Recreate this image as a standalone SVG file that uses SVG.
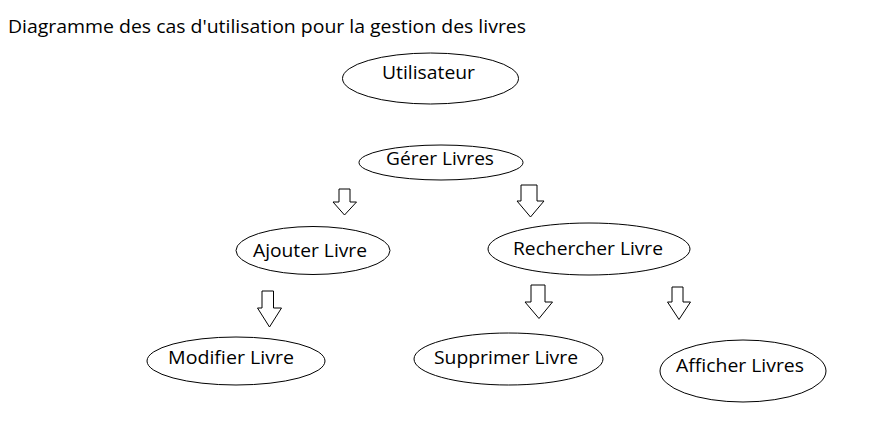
<svg xmlns="http://www.w3.org/2000/svg" width="886" height="431" viewBox="0 0 886 431">
<style>
.n ellipse{fill:#fff;stroke:#000;stroke-width:1}
text{font-family:"Open Sans","Liberation Sans",sans-serif;font-size:18.5px;fill:#000}
.c polygon{fill:#fff;stroke:#000;stroke-width:1}
</style>
<rect width="886" height="431" fill="#fff"/>
<text x="8" y="33" textLength="518" lengthAdjust="spacingAndGlyphs">Diagramme des cas d'utilisation pour la gestion des livres</text>
<g id="utilisateur" class="n"><ellipse cx="430.5" cy="78.5" rx="88" ry="25.5"/><text x="382" y="79" textLength="93" lengthAdjust="spacingAndGlyphs">Utilisateur</text></g>
<g id="gerer" class="n"><ellipse cx="441" cy="162.5" rx="82" ry="17.5"/><text x="386" y="165" textLength="108" lengthAdjust="spacingAndGlyphs">Gérer Livres</text></g>
<g id="ajouter" class="n"><ellipse cx="313" cy="250.5" rx="77" ry="24"/><text x="253" y="257" textLength="114" lengthAdjust="spacingAndGlyphs">Ajouter Livre</text></g>
<g id="rechercher" class="n"><ellipse cx="589" cy="249" rx="101" ry="26"/><text x="513" y="255" textLength="150" lengthAdjust="spacingAndGlyphs">Rechercher Livre</text></g>
<g id="modifier" class="n"><ellipse cx="236" cy="361" rx="89" ry="24"/><text x="168" y="364" textLength="126" lengthAdjust="spacingAndGlyphs">Modifier Livre</text></g>
<g id="supprimer" class="n"><ellipse cx="508.5" cy="359" rx="94.5" ry="26"/><text x="434" y="364" textLength="144" lengthAdjust="spacingAndGlyphs">Supprimer Livre</text></g>
<g id="afficher" class="n"><ellipse cx="743" cy="371" rx="83" ry="31"/><text x="676" y="372" textLength="128" lengthAdjust="spacingAndGlyphs">Afficher Livres</text></g>
<g id="connectors" class="c">
<polygon points="339,189 350,189 350,202 356.5,202 344.5,215 333,202 339,202"/>
<polygon points="521,185 537,185 537,201 544,201 530.5,217 517,201 521,201"/>
<polygon points="262,291 273.5,291 273.5,308 281.5,308 269.5,327 257.5,308 262,308"/>
<polygon points="531,285 545,285 545,302 552.5,302 539,318.5 525,302 531,302"/>
<polygon points="672,287 683,287 683,302 690.5,302 679,319.5 667.5,302 672,302"/>
</g>
</svg>
